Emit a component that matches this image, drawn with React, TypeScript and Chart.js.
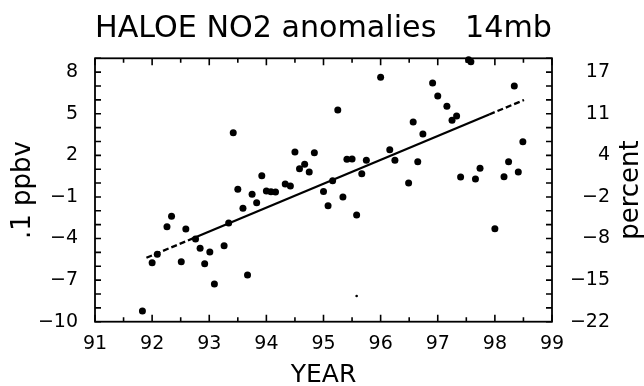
import React, { useEffect, useRef } from 'react';
import { Chart, registerables } from 'chart.js';

Chart.register(...registerables);

// ---- data ----
const years = [
  91.83, 92.0, 92.09, 92.26, 92.34, 92.51, 92.59, 92.76, 92.84, 92.92,
  93.01, 93.09, 93.26, 93.34, 93.42, 93.5, 93.59, 93.67, 93.75, 93.83,
  93.92, 94.0, 94.08, 94.16, 94.33, 94.42, 94.5, 94.58, 94.67, 94.75,
  94.84, 95.0, 95.08, 95.16, 95.25, 95.34, 95.41, 95.5, 95.58, 95.67,
  95.75, 96.0, 96.16, 96.25, 96.49, 96.57, 96.65, 96.74, 96.91, 97.0,
  97.16, 97.25, 97.33, 97.4, 97.54, 97.58, 97.66, 97.74, 98.0, 98.16,
  98.24, 98.34, 98.41, 98.49,
];
const anomalies = [
  -9.23, -5.75, -5.14, -3.15, -2.4, -5.68, -3.32, -4.04, -4.71, -5.82,
  -4.98, -7.28, -4.52, -2.88, 3.63, -0.45, -1.82, -6.63, -0.8, -1.42,
  0.53, -0.57, -0.62, -0.65, -0.07, -0.21, 2.24, 1.03, 1.35, 0.8,
  2.19, -0.6, -1.63, 0.17, 5.27, -1.0, 1.71, 1.73, -2.3, 0.67,
  1.64, 7.63, 2.41, 1.64, 0.0, 4.4, 1.53, 3.54, 7.22, 6.28,
  5.54, 4.53, 4.84, 0.44, 8.9, 8.75, 0.29, 1.06, -3.29, 0.46,
  1.54, 7.0, 0.8, 2.98,
];
const speckYears = [95.58];
const speckValues = [-8.15];

const trendYears = [91.9, 92.76, 97.9, 98.51];
const trendValues = [-5.39, -3.91, 4.95, 5.99];

const xTickLabels = [91, 92, 93, 94, 95, 96, 97, 98, 99];
const xTickMarks = [91, 91.5, 92, 92.5, 93, 93.5, 94, 94.5, 95, 95.5, 96, 96.5, 97, 97.5, 98, 98.5, 99];
const yTickLabels = [-10, -7, -4, -1, 2, 5, 8];
const percentLabels = ['−22', '−15', '−8', '−2', '4', '11', '17'];
const yTickMarks = [-10, -9, -8, -7, -6, -5, -4, -3, -2, -1, 0, 1, 2, 3, 4, 5, 6, 7, 8, 9];

const FONT = '"DejaVu Sans", sans-serif';

const fmt = (v: number) => (v < 0 ? '−' + Math.abs(v) : String(v));

const framePlugin = {
  id: 'frame',
  beforeDatasetsDraw(chart: any) {
    const { ctx, chartArea } = chart;
    const { left, right, top, bottom } = chartArea;
    const xs = chart.scales.x;
    const ys = chart.scales.y;
    ctx.save();
    ctx.strokeStyle = '#000';
    ctx.lineWidth = 1.8;
    ctx.strokeRect(left, top, right - left, bottom - top);
    ctx.lineWidth = 1.6;
    ctx.beginPath();
    xTickMarks.forEach((v) => {
      const px = xs.getPixelForValue(v);
      const len = Number.isInteger(v) ? 7 : 4.5;
      ctx.moveTo(px, bottom);
      ctx.lineTo(px, bottom - len);
      ctx.moveTo(px, top);
      ctx.lineTo(px, top + len);
    });
    yTickMarks.forEach((v) => {
      const py = ys.getPixelForValue(v);
      ctx.moveTo(left, py);
      ctx.lineTo(left + 6, py);
      ctx.moveTo(right, py);
      ctx.lineTo(right - 6, py);
    });
    ctx.stroke();
    ctx.restore();
  },
  afterDraw(chart: any) {
    const { ctx, chartArea } = chart;
    ctx.save();
    ctx.translate(631, (chartArea.top + chartArea.bottom) / 2);
    ctx.rotate(-Math.PI / 2);
    ctx.font = `26px ${FONT}`;
    ctx.fillStyle = '#000';
    ctx.textAlign = 'center';
    ctx.textBaseline = 'middle';
    ctx.fillText('percent', 0, 0);
    ctx.restore();
  },
};

export default function App() {
  const canvasRef = useRef<HTMLCanvasElement | null>(null);

  useEffect(() => {
    const canvas = canvasRef.current;
    if (!canvas) return;
    const chart = new Chart(canvas, {
      type: 'scatter',
      data: {
        datasets: [
          {
            type: 'line',
            data: trendYears.map((x, i) => ({ x, y: trendValues[i] })),
            borderColor: '#000',
            borderWidth: 2.3,
            pointRadius: 0,
            fill: false,
            segment: {
              borderDash: (ctx: any) => (ctx.p0DataIndex === 1 ? [] : [6, 3]),
            },
          } as any,
          {
            data: years.map((x, i) => ({ x, y: anomalies[i] })),
            backgroundColor: '#000',
            borderWidth: 0,
            pointRadius: 3.5,
            clip: false,
          } as any,
          {
            data: speckYears.map((x, i) => ({ x, y: speckValues[i] })),
            backgroundColor: '#000',
            borderWidth: 0,
            pointRadius: 1.3,
          },
        ],
      },
      options: {
        responsive: false,
        animation: false,
        layout: { padding: { right: 34 } },
        plugins: {
          legend: { display: false },
          tooltip: { enabled: false },
          title: {
            display: true,
            fullSize: false,
            text: 'HALOE NO2 anomalies   14mb',
            color: '#000',
            font: { family: FONT, size: 31, weight: 'normal', lineHeight: 1.2 },
            padding: { top: 10.5, bottom: 10.6 },
          },
        },
        scales: {
          x: {
            type: 'linear',
            min: 91,
            max: 99,
            afterBuildTicks: (s: any) => {
              s.ticks = xTickLabels.map((value) => ({ value }));
            },
            afterFit: (s: any) => {
              s.height = 64.3;
            },
            grid: { display: false, drawTicks: false },
            border: { display: false },
            ticks: {
              color: '#000',
              font: { family: FONT, size: 19 },
              padding: 11,
              maxRotation: 0,
              autoSkip: false,
              callback: (v: any) => fmt(Number(v)),
            },
            title: {
              display: true,
              text: 'YEAR',
              color: '#000',
              font: { family: FONT, size: 25, lineHeight: 1 },
              padding: { top: 0, bottom: -1.5 },
            },
          },
          y: {
            position: 'left',
            min: -10,
            max: 9,
            afterBuildTicks: (s: any) => {
              s.ticks = yTickLabels.map((value) => ({ value }));
            },
            afterFit: (s: any) => {
              s.width = 95;
            },
            grid: { display: false, drawTicks: false },
            border: { display: false },
            ticks: {
              color: '#000',
              font: { family: FONT, size: 19 },
              padding: 17,
              autoSkip: false,
              callback: (v: any) => fmt(Number(v)),
            },
            title: {
              display: true,
              text: '.1 ppbv',
              color: '#000',
              font: { family: FONT, size: 26, lineHeight: 1 },
              padding: { top: 10, bottom: 0 },
            },
          },
          y2: {
            position: 'right',
            min: -10,
            max: 9,
            afterBuildTicks: (s: any) => {
              s.ticks = yTickLabels.map((value) => ({ value }));
            },
            afterFit: (s: any) => {
              s.width = 58;
            },
            grid: { display: false, drawTicks: false },
            border: { display: false },
            ticks: {
              color: '#000',
              font: { family: FONT, size: 19 },
              crossAlign: 'far',
              autoSkip: false,
              callback: (v: any) => percentLabels[yTickLabels.indexOf(Number(v))] ?? '',
            },
          },
        },
      } as any,
      plugins: [framePlugin],
    });
    return () => chart.destroy();
  }, []);

  return (
    <div style={{ position: 'absolute', left: 0, top: 0, width: 644, height: 386, background: '#fff' }}>
      <canvas ref={canvasRef} width={644} height={386} style={{ display: 'block' }} />
    </div>
  );
}
